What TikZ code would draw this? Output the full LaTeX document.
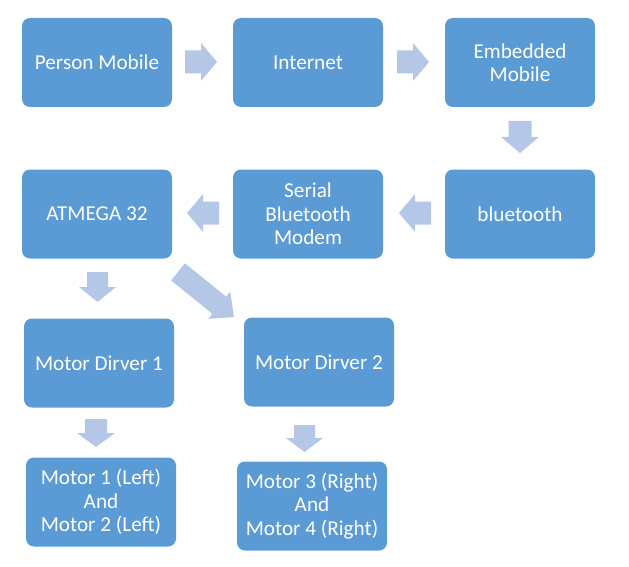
\documentclass[tikz,border=0pt]{standalone}
\usepackage{fontspec}
\setmainfont{Carlito}
\definecolor{boxc}{HTML}{5B9BD5}
\definecolor{arrowc}{HTML}{B4C7E7}
\tikzset{
  box/.style={fill=boxc, rounded corners=8pt, minimum width=150pt, minimum height=89pt,
    text=white, align=center, inner sep=2pt, font=\fontsize{21.2}{23.4}\selectfont},
  pics/barrow/.style n args={4}{code={
    \fill[arrowc] (-#1/2,-#2/2) -- (#1/2-#4,-#2/2) -- (#1/2-#4,-#3/2) -- (#1/2,0)
      -- (#1/2-#4,#3/2) -- (#1/2-#4,#2/2) -- (-#1/2,#2/2) -- cycle;}}
}
\begin{document}
\begin{tikzpicture}[x=1pt,y=-1pt]
\useasboundingbox (0,0) rectangle (629,567);
\node[box] (pm)   at (97,62.5)  {Person Mobile};
\node[box] (inet) at (308,62.5) {Internet};
\node[box] (emb)  at (520,62.5) {Embedded\\Mobile};
\node[box] (bt)   at (520,214)  {bluetooth};
\node[box] (sbm)  at (308,214)  {Serial\\Bluetooth\\Modem};
\node[box] (atm)  at (97,214)   {ATMEGA 32};
\node[box] (md1)  at (99,363)   {Motor Dirver 1};
\node[box] (md2)  at (319,362)  {Motor Dirver 2};
\node[box] (m1)   at (101,502)  {Motor 1 (Left)\\And\\Motor 2 (Left)};
\node[box] (m3)   at (312,506)  {Motor 3 (Right)\\And\\Motor 4 (Right)};
% block arrows
\pic at (201,62) {barrow={32}{23}{38}{16}};
\pic at (413,62) {barrow={32}{23}{38}{16}};
\pic[rotate=-90] at (520,137) {barrow={32}{23}{38}{16}};
\pic[rotate=180] at (415,213) {barrow={32}{23}{38}{16}};
\pic[rotate=180] at (203,213) {barrow={32}{23}{38}{16}};
\pic[rotate=-90] at (97.5,287) {barrow={30}{21}{37}{15}};
\pic[rotate=-39] at (206,294.5) {barrow={72}{22}{35}{19}};
\pic[rotate=-90] at (96,433) {barrow={28}{22}{38}{14}};
\pic[rotate=-90] at (304.5,438.5) {barrow={27}{21}{37}{14}};
\end{tikzpicture}
\end{document}
